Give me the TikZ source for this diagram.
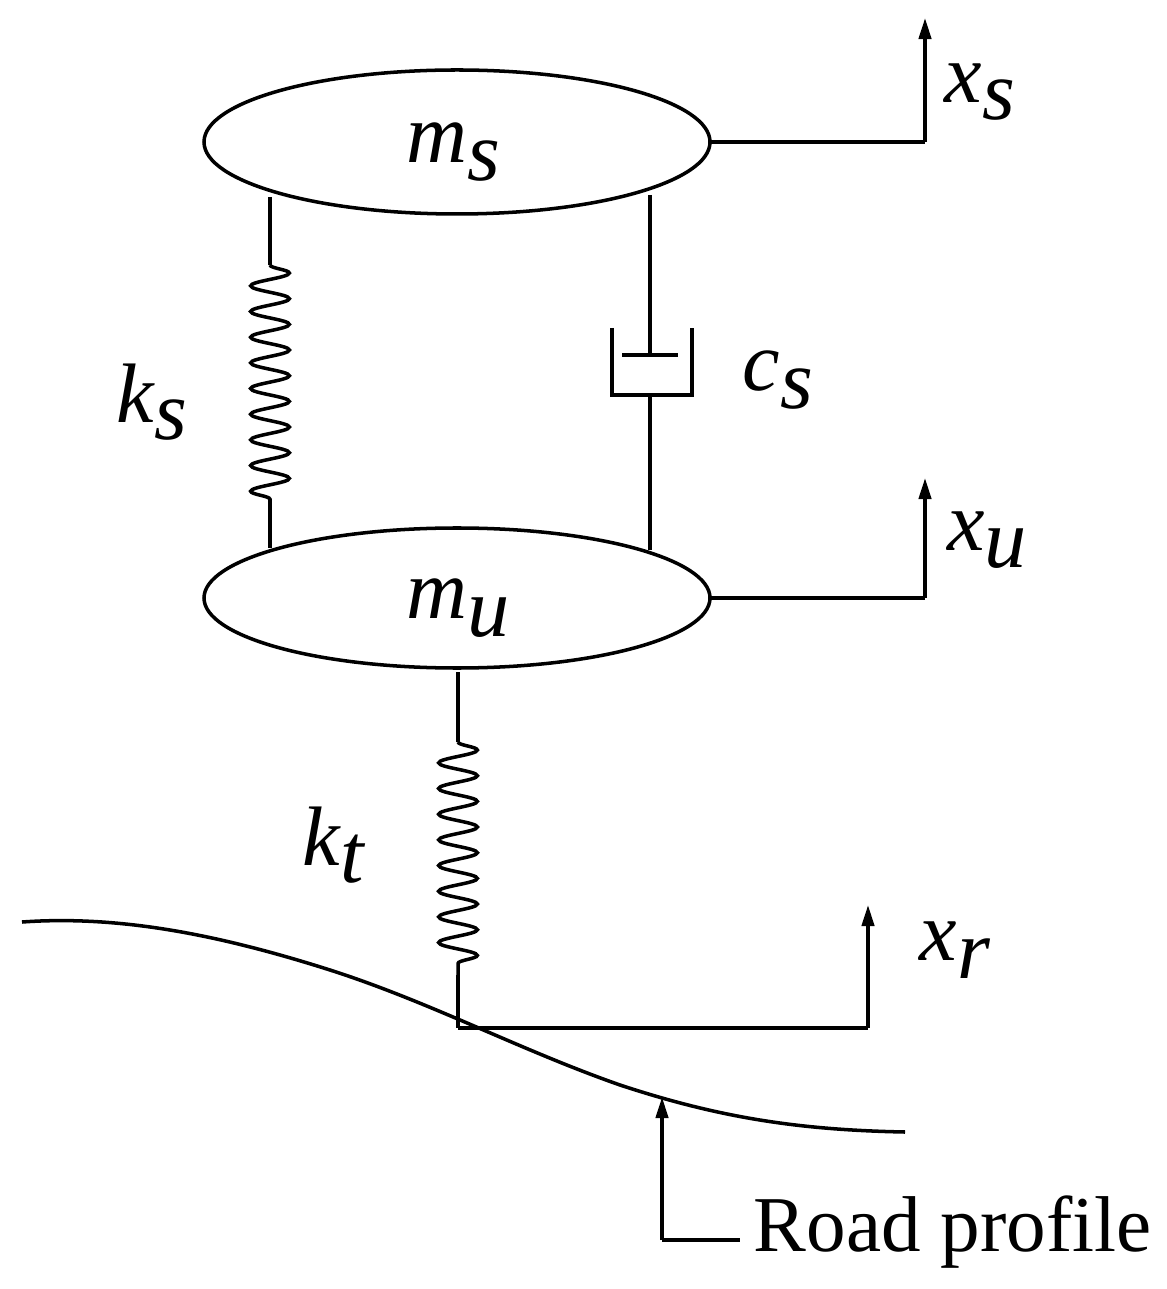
\documentclass[tikz,border=0pt]{standalone}
\usepackage{fontspec}
\setmainfont{Liberation Serif}
\usetikzlibrary{decorations.pathmorphing,arrows.meta}
\newcommand{\lab}[2]{{\fontsize{24}{24}\selectfont\itshape #1\raisebox{-0.45ex}{#2}}}
\begin{document}
\begin{tikzpicture}[x=0.01cm,y=-0.01cm,line width=1pt,
  spr/.style={decorate,decoration={snake,segment length=7.3pt,amplitude=5.5pt}},
  arr/.style={-{Triangle[length=6pt,width=3.5pt]}},
  lbl/.style={inner sep=0}]
\useasboundingbox (0,0) rectangle (1166,1289);
\draw (457,142) ellipse [x radius=253,y radius=72];
\draw (457,598) ellipse [x radius=253,y radius=70];
\coordinate (msr) at (710,142); \coordinate (mur) at (710,598);
\node[lbl] (ms) at (453,152) {\lab{m}{s}};
\node[lbl] (mu) at (458,608) {\lab{m}{u}};
% outputs
\coordinate (xs1) at (925,142); \coordinate (xs2) at (925,18);
\draw (msr) -- (xs1); \draw[arr] (xs1) -- (xs2);
\node[lbl] (xs) at (980,92) {\lab{x}{s}};
\coordinate (xu1) at (925,598); \coordinate (xu2) at (925,478);
\draw (mur) -- (xu1); \draw[arr] (xu1) -- (xu2);
\node[lbl] (xu) at (987,540) {\lab{x}{u}};
% spring ks
\coordinate (k1) at (270,197); \coordinate (k2) at (270,265);
\coordinate (k3) at (270,500); \coordinate (k4) at (270,548);
\draw (k1) -- (k2); \draw[spr] (k2) -- (k3); \draw (k3) -- (k4);
\node[lbl] (ks) at (152,402) {\lab{k}{s}};
% damper
\coordinate (d1) at (650,195); \coordinate (d2) at (650,355);
\coordinate (d3) at (650,395); \coordinate (d4) at (650,550);
\draw (d1) -- (d2);
\draw (622,355) -- (678,355);
\draw (612,328) -- (612,395) -- (692,395) -- (692,328);
\draw (d3) -- (d4);
\node[lbl] (cs) at (778,380) {\lab{c}{s}};
% spring kt
\coordinate (t1) at (458,672); \coordinate (t2) at (458,742);
\coordinate (t3) at (458,975); \coordinate (t4) at (458,1028);
\draw (t1) -- (t2); \draw[spr] (t2) -- (t3); \draw (t3) -- (t4);
\node[lbl] (kt) at (333,845) {\lab{k}{t}};
% road
\draw (22,922) .. controls (120,915) and (220,935) .. (330,970)
  .. controls (430,1002) and (520,1050) .. (620,1085)
  .. controls (720,1118) and (800,1130) .. (905,1132);
\coordinate (xr1) at (868,1028); \coordinate (xr2) at (868,905);
\draw (t4) -- (xr1); \draw[arr] (xr1) -- (xr2);
\node[lbl] (xr) at (955,950) {\lab{x}{r}};
\coordinate (rp1) at (662,1240); \coordinate (rp2) at (662,1097); \coordinate (rp3) at (740,1240);
\draw[arr] (rp1) -- (rp2); \draw (rp1) -- (rp3);
\node[lbl,anchor=west] (rp) at (752,1232) {\fontsize{22.5}{22.5}\selectfont Road profile};
\end{tikzpicture}
\end{document}
